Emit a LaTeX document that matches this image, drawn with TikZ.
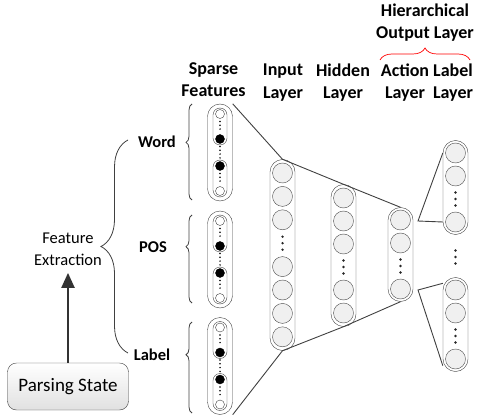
\documentclass[tikz,border=0pt]{standalone}
\usepackage{fontspec}
\setmainfont{Carlito}
\usetikzlibrary{arrows.meta,decorations.pathreplacing}
\newcommand{\threedots}[2]{\fill[black!85] (#1,#2-6.5) circle (1.3pt) (#1,#2) circle (1.3pt) (#1,#2+6.5) circle (1.3pt);}
\begin{document}
\begin{tikzpicture}[x=1pt, y=-1pt,
  unit/.style={circle, draw=black!70, fill=black!6, minimum size=20pt, inner sep=0pt},
  layer/.style={draw=black!75, rounded corners=12.5pt, minimum width=25pt, inner sep=0pt},
  grp/.style={draw=black!75, rounded corners=12.5pt, minimum width=25pt, minimum height=97pt, inner sep=0pt},
  subgrp/.style={draw=black!75, rounded corners=7pt, minimum width=14pt, minimum height=37pt, inner sep=0pt},
  offbit/.style={circle, draw=black!75, fill=white, minimum size=9pt, inner sep=0pt},
  onbit/.style={circle, draw=black, fill=black, minimum size=9pt, inner sep=0pt},
  bitdots/.style={line width=1.7pt, line cap=round, dash pattern=on 0pt off 3.8pt, shorten <=2.8pt, shorten >=2.8pt},
  link/.style={draw=black!75, line width=0.9pt},
  head/.style={align=center, font=\fontsize{18}{22.5}\selectfont\bfseries},
  side/.style={font=\fontsize{16.5}{20}\selectfont\bfseries},
  curly/.style={draw=black!75, line width=0.8pt, decorate},
]
\useasboundingbox (0,0) rectangle (478,419);
\node[head] (hsparse) at (213.5,79.5) {Sparse\\Features};
\node[head] (hinput) at (283,82.5) {Input\\Layer};
\node[head] (hhidden) at (343,82.5) {Hidden\\Layer};
\node[head] (haction) at (405,82.5) {Action\\Layer};
\node[head] (hlabel) at (453,82.5) {Label\\Layer};
\node[head] (hout) at (425,22.5) {Hierarchical\\Output Layer};
\draw[red, line width=0.7pt, decorate, decoration={brace, amplitude=12pt}] (380,60) -- (470,60);
\foreach \g/\c in {word/152.5, pos/259.5, label/366} {
  \node[grp] (\g grp) at (220,\c) {};
  \node[subgrp] (\g A) at (220,\c-26) {};
  \node[subgrp] (\g B) at (220,\c+26) {};
  \node[offbit] (\g 1) at (220,\c-38.5) {};
  \node[onbit] (\g 2) at (220,\c-13.5) {};
  \node[onbit] (\g 3) at (220,\c+13.5) {};
  \node[offbit] (\g 4) at (220,\c+38.5) {};
  \draw[bitdots] (\g 1) -- (\g 2);
  \draw[bitdots] (\g 2) -- (\g 3);
  \draw[bitdots] (\g 3) -- (\g 4);
}
\draw[curly, decoration={brace, amplitude=6pt, aspect=0.6}] (192,200) -- (192,104);
\draw[curly, decoration={brace, amplitude=6pt, aspect=0.64}] (192,303) -- (192,215);
\draw[curly, decoration={brace, amplitude=6pt, aspect=0.64}] (192,413) -- (192,322);
\node[side] (lword) at (157,142) {Word};
\node[side] (lpos) at (153,247) {POS};
\node[side] (llabel) at (152,355) {Label};
\draw[curly, decoration={brace, amplitude=27pt}] (128,353) -- (128,140);
\node[align=center, font=\fontsize{16.5}{22}\selectfont] (fe) at (68,249) {Feature\\Extraction};
\node[draw=black!75, rounded corners=9pt, top color=white, bottom color=black!12, minimum width=121pt, minimum height=47pt, font=\fontsize{19}{23}\selectfont] (ps) at (68,386.5) {Parsing State};
\draw[draw=black!80, line width=2.2pt, -{Triangle[length=15pt, width=13pt]}, shorten >=4pt] (ps) -- (fe);
\node[layer, minimum height=191pt] (input) at (282.5,255) {};
\foreach \i/\y in {1/173, 2/196.4, 3/219.8, 5/266.6, 6/290, 7/313.4, 8/336.8}
  \node[unit] (in\i) at (282.5,\y) {};
\threedots{282.5}{243.2}
\node[layer, minimum height=142pt] (hidden) at (343.5,255.5) {};
\foreach \i/\y in {1/198, 2/221, 3/244, 5/290, 6/313}
  \node[unit] (hd\i) at (343.5,\y) {};
\threedots{343.5}{267}
\node[layer, minimum height=94pt] (action) at (400.5,254.5) {};
\foreach \i/\y in {1/220, 2/243, 4/289}
  \node[unit] (ac\i) at (400.5,\y) {};
\threedots{400.5}{266}
\node[layer, minimum height=94pt] (labtop) at (455.5,187.5) {};
\foreach \i/\y in {1/153, 2/176, 4/222}
  \node[unit] (la\i) at (455.5,\y) {};
\threedots{455.5}{199}
\node[layer, minimum height=94pt] (labbot) at (455.5,324.5) {};
\foreach \i/\y in {1/290, 2/313, 4/359}
  \node[unit] (lb\i) at (455.5,\y) {};
\threedots{455.5}{336}
\threedots{455.5}{257}
\coordinate (apexA) at (418,221);
\coordinate (apexB) at (418,290);
\draw[link] (wordgrp.north east) -- (input.north) -- (hidden.north) -- (action.north);
\draw[link] (labelgrp.south east) -- (input.south) -- (hidden.south) -- (action.south);
\draw[link] (la1 -| labtop.west) -- (apexA) -- (la4 -| labtop.west);
\draw[link] ([yshift=-6pt]labbot.north west) -- (apexB) -- ([yshift=6pt]labbot.south west);
\end{tikzpicture}
\end{document}
